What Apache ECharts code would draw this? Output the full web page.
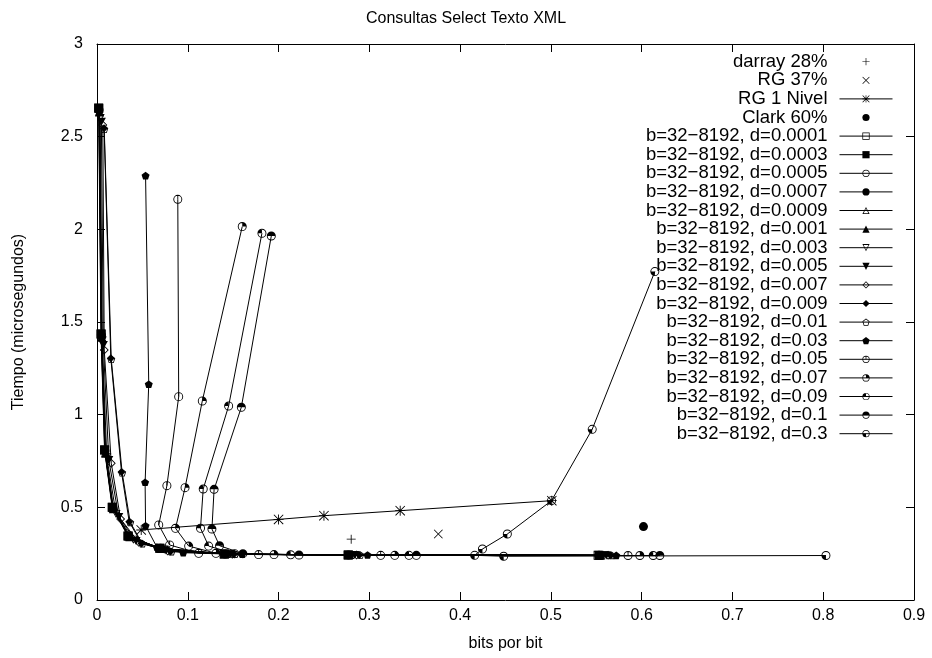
<!DOCTYPE html>
<html>
<head>
<meta charset="utf-8">
<script src="https://cdn.jsdelivr.net/npm/echarts@6/dist/echarts.min.js"></script>
<style>
  html, body { margin: 0; padding: 0; background: #fff; }
  #chart { width: 932px; height: 658px; }
</style>
</head>
<body>
<div id="chart"></div>
<script>
// ---- data: [bits por bit, tiempo] ----
const darray28 = [[0.280, 0.328]];
const rg37 = [[0.376, 0.356]];
const rg1Nivel = [[0.0487, 0.378], [0.200, 0.435], [0.250, 0.455], [0.334, 0.482], [0.501, 0.536]];
const clark60 = [[0.602, 0.396]];

// b = 32, 64, 128, ..., 8192 for each d
const d00001 = [[0.552,0.241],[0.2765,0.243],[0.140,0.248],[0.069,0.279],[0.034,0.345],[0.0167,0.50],[0.0083,0.81],[0.0044,1.435],[0.0018,2.655]];
const d00003 = [[0.553,0.241],[0.277,0.243],[0.1405,0.248],[0.0695,0.279],[0.0345,0.345],[0.017,0.50],[0.0085,0.81],[0.0046,1.435],[0.002,2.653]];
const d00005 = [[0.553,0.241],[0.277,0.243],[0.141,0.248],[0.070,0.279],[0.035,0.343],[0.0172,0.498],[0.0087,0.806],[0.0048,1.43],[0.0022,2.645]];
const d00007 = [[0.554,0.241],[0.278,0.243],[0.1415,0.248],[0.0705,0.278],[0.0355,0.342],[0.0175,0.495],[0.009,0.80],[0.005,1.425],[0.0024,2.64]];
const d00009 = [[0.554,0.241],[0.278,0.243],[0.142,0.248],[0.071,0.277],[0.036,0.340],[0.018,0.492],[0.0093,0.795],[0.0052,1.42],[0.0026,2.635]];
const d0001 = [[0.555,0.241],[0.2785,0.243],[0.142,0.248],[0.0712,0.277],[0.0362,0.339],[0.0182,0.49],[0.0095,0.79],[0.0053,1.415],[0.0027,2.63]];
const d0003 = [[0.558,0.241],[0.281,0.243],[0.1445,0.247],[0.074,0.272],[0.040,0.325],[0.021,0.464],[0.0108,0.77],[0.0058,1.40],[0.0035,2.60]];
const d0005 = [[0.561,0.241],[0.284,0.243],[0.147,0.247],[0.076,0.268],[0.043,0.318],[0.024,0.448],[0.013,0.755],[0.007,1.375],[0.0048,2.58]];
const d0007 = [[0.563,0.241],[0.286,0.243],[0.149,0.247],[0.078,0.265],[0.046,0.312],[0.026,0.437],[0.0157,0.738],[0.008,1.349],[0.0064,2.563]];
const d0009 = [[0.566,0.241],[0.289,0.243],[0.151,0.247],[0.081,0.262],[0.049,0.305],[0.0355,0.422],[0.027,0.69],[0.0152,1.305],[0.0078,2.545]];
const d001 = [[0.567,0.241],[0.290,0.243],[0.152,0.247],[0.082,0.261],[0.050,0.304],[0.0366,0.419],[0.0277,0.687],[0.0157,1.299],[0.008,2.54]];
const d003 = [[0.572,0.241],[0.298,0.243],[0.160,0.247],[0.095,0.255],[0.066,0.285],[0.0535,0.401],[0.053,0.635],[0.057,1.164],[0.0535,2.29]];
const d005 = [[0.585,0.240],[0.3125,0.241],[0.178,0.245],[0.112,0.252],[0.080,0.297],[0.068,0.405],[0.077,0.617],[0.090,1.097],[0.089,2.162]];
const d007 = [[0.598,0.240],[0.328,0.241],[0.195,0.245],[0.131,0.252],[0.101,0.291],[0.0865,0.387],[0.097,0.606],[0.116,1.074],[0.160,2.015]];
const d009 = [[0.6127,0.240],[0.3437,0.241],[0.2133,0.244],[0.1516,0.250],[0.123,0.291],[0.114,0.387],[0.117,0.599],[0.145,1.047],[0.1817,1.979]];
const d01 = [[0.620,0.240],[0.3518,0.241],[0.2225,0.243],[0.1607,0.250],[0.135,0.293],[0.1266,0.383],[0.129,0.597],[0.159,1.040],[0.192,1.964]];
const d03 = [[0.803,0.240],[0.448,0.236],[0.416,0.241],[0.4246,0.275],[0.452,0.356],[0.5007,0.536],[0.5455,0.921],[0.6145,1.772]];

const seriesNames = [
  'darray 28%', 'RG 37%', 'RG 1 Nivel', 'Clark 60%',
  'b=32\u22128192, d=0.0001', 'b=32\u22128192, d=0.0003', 'b=32\u22128192, d=0.0005',
  'b=32\u22128192, d=0.0007', 'b=32\u22128192, d=0.0009', 'b=32\u22128192, d=0.001',
  'b=32\u22128192, d=0.003', 'b=32\u22128192, d=0.005', 'b=32\u22128192, d=0.007',
  'b=32\u22128192, d=0.009', 'b=32\u22128192, d=0.01', 'b=32\u22128192, d=0.03',
  'b=32\u22128192, d=0.05', 'b=32\u22128192, d=0.07', 'b=32\u22128192, d=0.09',
  'b=32\u22128192, d=0.1', 'b=32\u22128192, d=0.3'
];
const seriesData = [darray28, rg37, rg1Nivel, clark60,
  d00001, d00003, d00005, d00007, d00009, d0001, d0003, d0005, d0007, d0009, d001,
  d003, d005, d007, d009, d01, d03];

const xTicks = { min: 0, max: 0.9, step: 0.1 };
const yTicks = { min: 0, max: 3, step: 0.5 };

// ---- point shapes (fill-only outlines in a 20x20 box) ----
const RING = 'M10 0A10 10 0 1 1 10 20A10 10 0 1 1 10 0Z M10 2A8 8 0 1 0 10 18A8 8 0 1 0 10 2Z';
const PLUS = 'M9.1 0L10.9 0L10.9 9.1L20 9.1L20 10.9L10.9 10.9L10.9 20L9.1 20L9.1 10.9L0 10.9L0 9.1L9.1 9.1Z';
const CROSS = 'M1.3 0L20 18.7L18.7 20L0 1.3Z M18.7 0L20 1.3L1.3 20L0 18.7Z';
const SHAPES = {
  plus: 'path://' + PLUS,
  cross: 'path://' + CROSS,
  star: 'path://' + PLUS + ' ' + CROSS,
  box: 'path://M0 0L20 0L20 20L0 20Z M2 2L2 18L18 18L18 2Z',
  boxF: 'path://M0 0L20 0L20 20L0 20Z',
  circle: 'path://' + RING,
  circleF: 'path://M10 0A10 10 0 1 1 10 20A10 10 0 1 1 10 0Z',
  triU: 'path://M10 0L20 18L0 18Z M10 4.1L3.4 16L16.6 16Z',
  triUF: 'path://M10 0L20 18L0 18Z',
  triD: 'path://M0 0L20 0L10 18Z M3.4 2L10 13.9L16.6 2Z',
  triDF: 'path://M0 0L20 0L10 18Z',
  dia: 'path://M10 0L20 10L10 20L0 10Z M10 2.8L2.8 10L10 17.2L17.2 10Z',
  diaF: 'path://M10 0L20 10L10 20L0 10Z',
  pent: 'path://M10 0L19.51 6.91L15.88 18.09L4.12 18.09L0.49 6.91Z M10 2.47L2.84 7.67L5.57 16.09L14.43 16.09L17.16 7.67Z',
  pentF: 'path://M10 0L19.51 6.91L15.88 18.09L4.12 18.09L0.49 6.91Z',
  c0: 'path://' + RING + ' M9 1L11 1L11 10L9 10Z',
  c1: 'path://' + RING + ' M10 10L10 0A10 10 0 0 1 20 10Z',
  c2: 'path://' + RING + ' M10 10L0 10A10 10 0 0 1 10 0Z',
  c3: 'path://' + RING + ' M0 10A10 10 0 0 1 20 10Z',
  c4: 'path://' + RING + ' M10 10L10 20A10 10 0 0 1 0 10Z'
};
const seriesShape = ['plus', 'cross', 'star', 'circleF',
  'box', 'boxF', 'circle', 'circleF', 'triU', 'triUF', 'triD', 'triDF', 'dia', 'diaF',
  'pent', 'pentF', 'c0', 'c1', 'c2', 'c3', 'c4'];
const seriesSize = [9, 9, 10, 9, 9, 9, 9, 8, 9, 9, 9, 9, 9, 8, 8, 8, 9, 9, 9, 9, 9];
const pointsOnly = [true, true, false, true];

const FONT = '"Liberation Sans", Arial, Helvetica, sans-serif';

const series = seriesData.map((data, i) => ({
  type: 'line',
  name: seriesNames[i],
  data: data,
  xAxisIndex: 0,
  yAxisIndex: 0,
  symbol: SHAPES[seriesShape[i]],
  symbolSize: seriesSize[i],
  symbolKeepAspect: true,
  showSymbol: true,
  showAllSymbol: true,
  lineStyle: { color: '#000', width: 1, opacity: pointsOnly[i] ? 0 : 1 },
  itemStyle: { color: '#000', borderWidth: 0 },
  emphasis: { disabled: true },
  clip: true,
  animation: false
}));

function valueAxis(position, ticks, showLabels) {
  return {
    type: 'value',
    position: position,
    min: ticks.min,
    max: ticks.max,
    interval: ticks.step,
    axisLine: { show: true, onZero: false, lineStyle: { color: '#000', width: 1 } },
    axisTick: { show: true, inside: true, length: 8, lineStyle: { color: '#000', width: 1 } },
    axisLabel: {
      show: showLabels,
      color: '#000',
      fontSize: 16,
      fontFamily: FONT,
      margin: (position === 'left') ? 14 : 8
    },
    splitLine: { show: false },
    minorTick: { show: false }
  };
}

const xBottom = valueAxis('bottom', xTicks, true);
xBottom.name = 'bits por bit';
xBottom.nameLocation = 'middle';
xBottom.nameGap = 36;
xBottom.nameTextStyle = { color: '#000', fontSize: 16, fontFamily: FONT };

const yLeft = valueAxis('left', yTicks, true);
yLeft.name = 'Tiempo (microsegundos)';
yLeft.nameLocation = 'middle';
yLeft.nameGap = 70;
yLeft.nameTextStyle = { color: '#000', fontSize: 16, fontFamily: FONT };

const chart = echarts.init(document.getElementById('chart'), null, { renderer: 'canvas' });
chart.setOption({
  backgroundColor: '#fff',
  animation: false,
  title: {
    text: 'Consultas Select Texto XML',
    left: 'center',
    top: 6,
    textStyle: { color: '#000', fontSize: 16, fontWeight: 'normal', fontFamily: FONT }
  },
  grid: { left: 97, right: 18, top: 44, bottom: 58, containLabel: false, outerBoundsMode: 'none' },
  xAxis: [xBottom, valueAxis('top', xTicks, false)],
  yAxis: [yLeft, valueAxis('right', yTicks, false)],
  legend: {
    data: seriesNames,
    orient: 'vertical',
    align: 'right',
    right: 39,
    top: 52.2,
    padding: 0,
    itemWidth: 53,
    itemHeight: 9,
    itemGap: -0.4,
    selectedMode: false,
    lineStyle: { width: 1 },
    textStyle: { color: '#000', fontSize: 18.5, lineHeight: 18, fontFamily: FONT, padding: [0, 7, 0, 0] }
  },
  tooltip: { show: false },
  series: series
});
</script>
</body>
</html>
